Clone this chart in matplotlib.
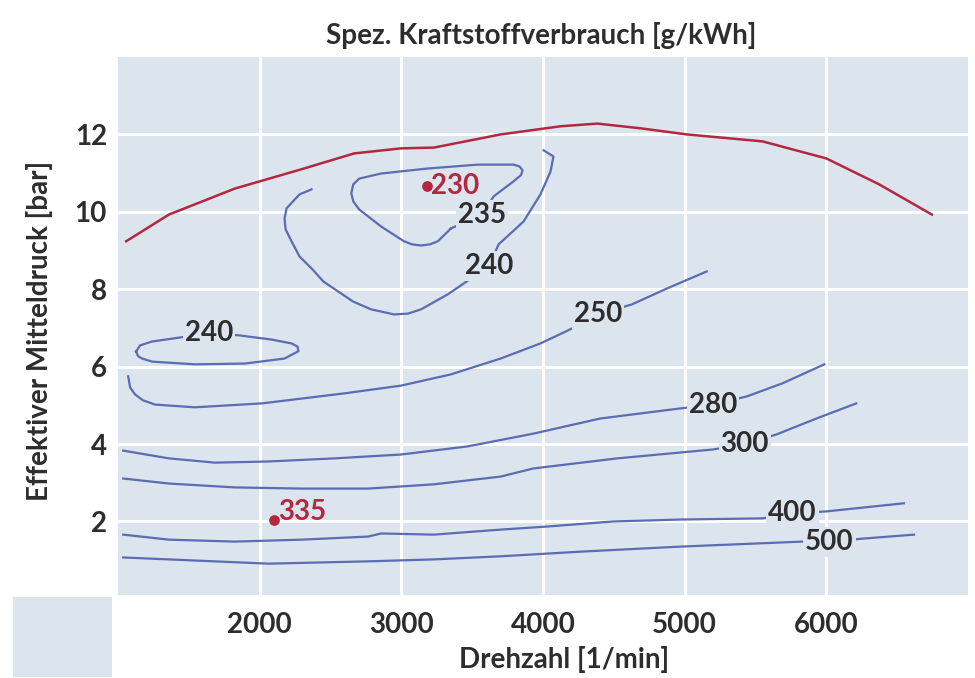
import matplotlib.pyplot as plt
from matplotlib.patches import Rectangle

plt.rcParams['font.family'] = ['Lato', 'DejaVu Sans']

# Volllastlinie (rot)
vl_rpm = [1058, 1360, 1824, 2295, 2668, 2998, 3230, 3701, 4123, 4383, 4685, 5016, 5550, 6000, 6373, 6745]
vl_bar = [9.24, 9.93, 10.60, 11.10, 11.51, 11.64, 11.66, 12.00, 12.21, 12.28, 12.16, 12.00, 11.82, 11.38, 10.71, 9.93]

# Linien gleichen Verbrauchs (g/kWh)
rpm_235 = [3350, 3568, 3652, 3793, 3845, 3856, 3835, 3793, 3540, 3188, 2858, 2703, 2661, 2647, 2661,
           2703, 2858, 3019, 3076, 3139, 3202, 3258, 3350]
bar_235 = [9.57, 9.93, 10.40, 10.79, 10.95, 11.07, 11.17, 11.22, 11.22, 11.12, 10.99, 10.86, 10.71, 10.48, 10.27,
           10.06, 9.62, 9.24, 9.16, 9.13, 9.16, 9.24, 9.57]

rpm_240a = [2366, 2281, 2190, 2176, 2183, 2225, 2281, 2366, 2450, 2555, 2661, 2787, 2949, 3047, 3139, 3329, 3441,
            3617, 3687, 3863, 3982, 4053, 4074, 4004]
bar_240a = [10.58, 10.45, 10.09, 9.83, 9.55, 9.24, 8.85, 8.54, 8.20, 7.94, 7.68, 7.48, 7.35, 7.37, 7.48, 7.87, 8.15,
            8.59, 9.16, 9.75, 10.45, 11.04, 11.43, 11.59]

rpm_240b = [1128, 1156, 1241, 1431, 1641, 1852, 2084, 2225, 2267, 2274, 2176, 1895, 1543, 1241, 1170, 1142, 1128]
bar_240b = [6.39, 6.55, 6.65, 6.75, 6.86, 6.81, 6.70, 6.60, 6.52, 6.40, 6.21, 6.08, 6.06, 6.13, 6.21, 6.27, 6.39]

rpm_250 = [1072, 1086, 1121, 1177, 1262, 1543, 2014, 2598, 2998, 3350, 3701, 3982, 4179, 4390, 4629, 4875, 5156]
bar_250 = [5.75, 5.46, 5.28, 5.13, 5.02, 4.95, 5.05, 5.31, 5.51, 5.80, 6.21, 6.60, 6.94, 7.35, 7.61, 8.02, 8.46]

rpm_280 = [1037, 1360, 1684, 2063, 2527, 2998, 3469, 3933, 4404, 4967, 5199, 5438, 5691, 5986]
bar_280 = [3.83, 3.63, 3.52, 3.55, 3.63, 3.73, 3.94, 4.27, 4.66, 4.92, 5.02, 5.23, 5.57, 6.06]

rpm_300 = [1037, 1360, 1824, 2295, 2766, 3230, 3701, 3933, 4524, 5199, 5424, 5649, 5930, 6211]
bar_300 = [3.11, 2.98, 2.88, 2.85, 2.85, 2.96, 3.16, 3.37, 3.63, 3.86, 3.99, 4.25, 4.66, 5.05]

rpm_400 = [1037, 1360, 1824, 2295, 2766, 2858, 3230, 3701, 4032, 4496, 4967, 5550, 5761, 6000, 6548]
bar_400 = [1.66, 1.53, 1.48, 1.53, 1.61, 1.69, 1.66, 1.79, 1.87, 2.00, 2.05, 2.08, 2.21, 2.26, 2.47]

rpm_500 = [1037, 1360, 2063, 2766, 3230, 3701, 4264, 4967, 5831, 6021, 6267, 6619]
bar_500 = [1.07, 1.02, 0.91, 0.97, 1.02, 1.10, 1.22, 1.35, 1.48, 1.48, 1.56, 1.66]

# Beschriftungen
lbl_text = ["235", "240", "240", "250", "280", "300", "400", "500"]
lbl_rpm = [3568, 3617, 1641, 4390, 5199, 5424, 5761, 6021]
lbl_bar = [9.93, 8.59, 6.86, 7.35, 5.02, 3.99, 2.21, 1.48]

# Bestpunkt und Punkt im Teillastbereich
pt_text = ["230", "335"]
pt_rpm = [3181, 2098]
pt_bar = [10.66, 2.03]

bg = "#dce4ee"
blue = "#5a6cb2"
red = "#b3283f"
dark = "#2d2d2d"
fs = 20

fig = plt.figure(figsize=(9.75, 6.78), dpi=100)
ax = fig.add_axes([0.121, 0.1224, 0.8718, 0.7935])
ax.set_facecolor(bg)
fig.patches.append(Rectangle((0.013, 0.002), 0.102, 0.117, transform=fig.transFigure,
                             facecolor=bg, edgecolor="none"))

for xs, ys in [(rpm_235, bar_235), (rpm_240a, bar_240a), (rpm_240b, bar_240b),
               (rpm_250, bar_250), (rpm_280, bar_280), (rpm_300, bar_300),
               (rpm_400, bar_400), (rpm_500, bar_500)]:
    ax.plot(xs, ys, color=blue, lw=1.6, solid_joinstyle="round", zorder=3)
ax.plot(vl_rpm, vl_bar, color=red, lw=1.8, solid_joinstyle="round", zorder=3)

for t, x, y in zip(lbl_text, lbl_rpm, lbl_bar):
    ax.text(x, y, t, ha="center", va="center", fontsize=fs, fontweight="bold", color=dark,
            zorder=4, bbox=dict(facecolor=bg, edgecolor="none", pad=1.5))

ax.scatter(pt_rpm, pt_bar, s=45, color=red, zorder=5)
ax.annotate(pt_text[0], (pt_rpm[0], pt_bar[0]), xytext=(3, 0), textcoords="offset points",
            ha="left", va="center", fontsize=fs, fontweight="bold", color=red, zorder=5)
ax.annotate(pt_text[1], (pt_rpm[1], pt_bar[1]), xytext=(3, 6), textcoords="offset points",
            ha="left", va="center", fontsize=fs, fontweight="bold", color=red, zorder=5)

ax.set_xlim(1000, 7000)
ax.set_ylim(0.1, 14)
ax.set_xticks([2000, 3000, 4000, 5000, 6000])
ax.set_yticks([2, 4, 6, 8, 10, 12])
ax.grid(True, color="white", lw=2.2)
ax.set_axisbelow(True)
ax.tick_params(length=0, labelsize=fs, labelcolor=dark)
ax.tick_params(axis="x", pad=12)
ax.tick_params(axis="y", pad=8)
for lab in ax.get_xticklabels() + ax.get_yticklabels():
    lab.set_fontweight("bold")
for s in ax.spines.values():
    s.set_visible(False)

fig.text(0.555, 0.948, "Spez. Kraftstoffverbrauch [g/kWh]", ha="center", va="center",
         fontsize=fs, fontweight="bold", color=dark)
fig.text(0.579, 0.027, "Drehzahl [1/min]", ha="center", va="center",
         fontsize=fs, fontweight="bold", color=dark)
fig.text(0.041, 0.512, "Effektiver Mitteldruck [bar]", ha="center", va="center", rotation=90,
         fontsize=fs, fontweight="bold", color=dark)

fig.savefig("out.png", dpi=100)
